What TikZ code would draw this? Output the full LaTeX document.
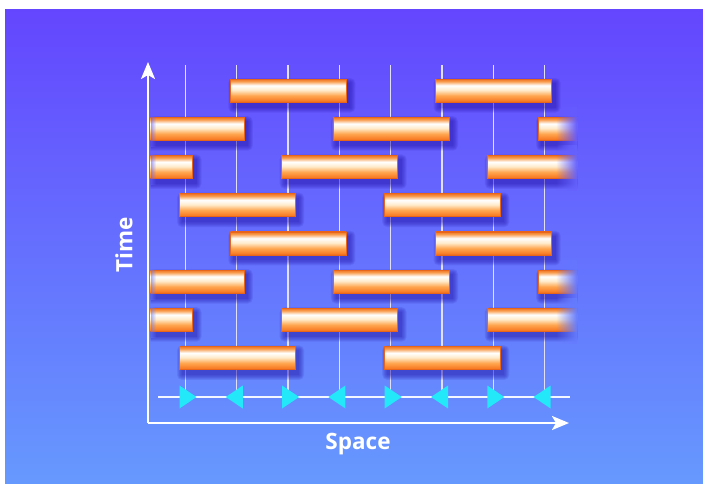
\documentclass[tikz,border=0pt]{standalone}
\usepackage{fontspec}
\setsansfont{Open Sans}
\usetikzlibrary{arrows.meta,fadings}

\definecolor{bgTop}{HTML}{6446FE}
\definecolor{bgBot}{HTML}{6699FE}
\definecolor{gridline}{HTML}{E2E0FF}
\definecolor{signal}{HTML}{22E8FA}
\definecolor{shadowblue}{HTML}{2010A8}
\definecolor{oEdge}{HTML}{E8661A}
\definecolor{oLow}{HTML}{F97D26}
\definecolor{oMid}{HTML}{FFA650}
\definecolor{cream}{HTML}{FFEBCB}
\definecolor{oHigh}{HTML}{F99C4C}
\definecolor{oTop}{HTML}{EE7224}

% orange tube: bright highlight in the upper third
\pgfdeclareverticalshading{barshade}{100bp}{%
  color(0bp)=(oEdge); color(25bp)=(oEdge); color(28bp)=(oLow);
  color(39bp)=(oMid); color(51bp)=(cream); color(61bp)=(white);
  color(70bp)=(oHigh); color(75bp)=(oTop); color(100bp)=(oTop)}

\tikzfading[name=fadeIn, left color=transparent!100, right color=transparent!0]
\tikzfading[name=fadeOut, left color=transparent!0, right color=transparent!100]

\tikzset{
  axis/.style={white, line width=2.4pt, -{Stealth[length=17pt, width=14pt, inset=4pt]}},
  grid/.style={gridline, line width=1.3pt},
  ray/.style={white!92!bgBot, line width=1.4pt},
  label/.style={white, font=\sffamily\bfseries\fontsize{22.5}{24}\selectfont, inner sep=0pt},
  tube/.style={shading=barshade, draw=oEdge, line width=0.6pt},
}

% bars: line index a -> bar from line a to line a+2, row r
\def\barlist{2/0,6/0,0/1,4/1,8/1,-1/2,3/2,7/2,1/3,5/3,
             2/4,6/4,0/5,4/5,8/5,-1/6,3/6,7/6,1/7,5/7}

\begin{document}
\begin{tikzpicture}[x=1pt, y=-1pt]
  \useasboundingbox (0,0) rectangle (703,483);
  \fill[white] (0,0) rectangle (703,483);
  \shade[top color=bgTop, bottom color=bgBot] (5,9) rectangle (703,483);

  \coordinate (origin) at (148,423);
  \coordinate (ytip) at (148,62);
  \coordinate (xtip) at (569,423);
  \coordinate (rayL) at (158,397);
  \coordinate (rayR) at (570,397);

  % vertical world lines
  \foreach \i in {1,...,8}{
    \pgfmathsetmacro\lx{185.5+51.3*(\i-1)}
    \draw[grid] (\lx,65) -- (\lx,397);
  }
  % signal line
  \draw[ray] (rayL) -- (rayR);

  % axes
  \draw[axis] (origin) -- (ytip);
  \draw[axis] (origin) -- (xtip);

  \begin{scope}
    \clip (150.5,60) rectangle (577,400);
    % soft shadows
    \foreach \a/\r in \barlist{
      \pgfmathsetmacro\xa{185.5+51.3*(\a-1)-6.5}
      \pgfmathsetmacro\xb{185.5+51.3*(\a+1)+7}
      \pgfmathsetmacro\yc{90.5+38.2*\r}
      \foreach \k in {0,...,5}{
        \fill[shadowblue, opacity=0.11, rounded corners=\k pt]
          (\xa+3-\k, \yc-11.5+4-\k) rectangle (\xb+4+\k, \yc+11.5+5.5+\k);
      }
    }
    % tubes
    \foreach \a/\r in \barlist{
      \pgfmathsetmacro\xa{185.5+51.3*(\a-1)-6.5}
      \pgfmathsetmacro\xb{185.5+51.3*(\a+1)+7}
      \pgfmathsetmacro\yc{90.5+38.2*\r}
      \shadedraw[tube] (\xa,\yc-11.5) rectangle (\xb,\yc+11.5);
    }
    % fading edges on the rows that run off the sides
    \foreach \r in {1,2,5,6}{
      \pgfmathsetmacro\yc{90.5+38.2*\r}
      \pgfmathsetmacro\t{(\yc-9)/4.74}
      \fill[bgBot!\t!bgTop, path fading=fadeIn] (556,\yc-22) rectangle (577,\yc+24);
      \fill[bgBot!\t!bgTop, path fading=fadeOut, opacity=0.6] (150.5,\yc-13) rectangle (156,\yc+18);
    }
  \end{scope}

  % signals travelling along the rays
  \foreach \i in {1,3,5,7}{
    \pgfmathsetmacro\lx{185.5+51.3*(\i-1)}
    \fill[signal] (\lx-6,385.5) -- (\lx+11,397) -- (\lx-6,408.5) -- cycle;
  }
  \foreach \i in {2,4,6,8}{
    \pgfmathsetmacro\lx{185.5+51.3*(\i-1)}
    \fill[signal] (\lx+6,385.5) -- (\lx-11,397) -- (\lx+6,408.5) -- cycle;
  }

  \node[label] (space) at (358,444) {Space};
  \node[label, rotate=90] (time) at (124,245) {Time};
\end{tikzpicture}
\end{document}
